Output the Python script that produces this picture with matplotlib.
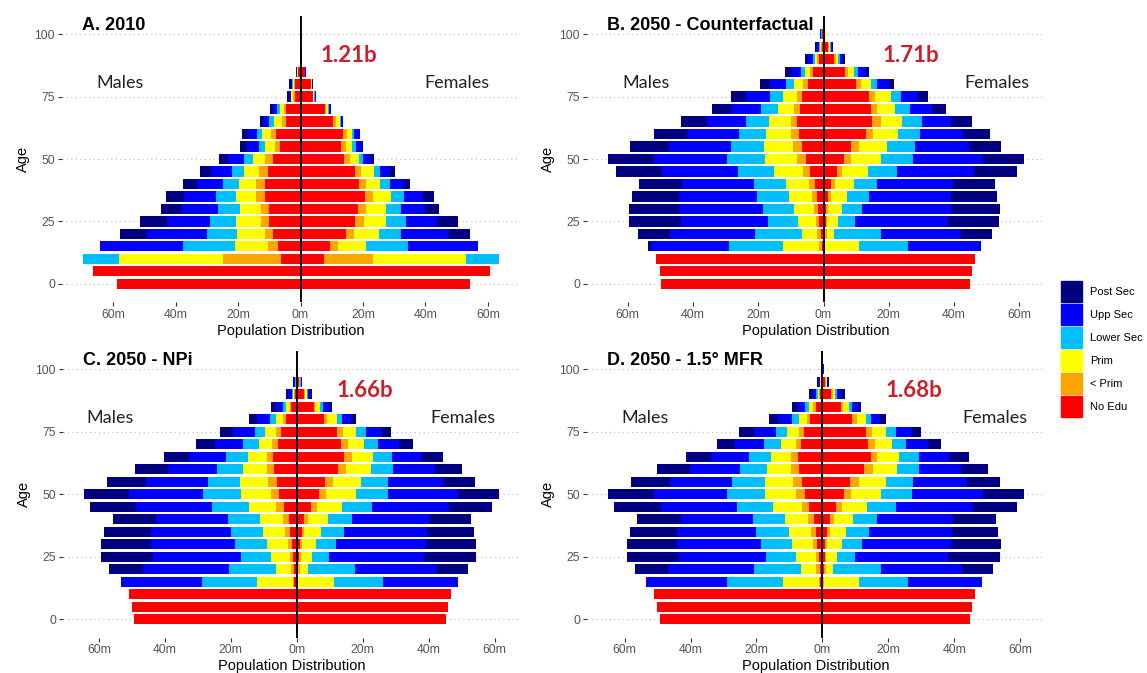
import numpy as np
import matplotlib.pyplot as plt
from matplotlib.patches import Patch

ages = list(range(0, 101, 5))
cats = ['No Edu', '< Prim', 'Prim', 'Lower Sec', 'Upp Sec', 'Post Sec']
colors = ['#FF0000', '#FFA500', '#FFFF00', '#00BFFF', '#0000FF', '#000080']

# population in millions, one row per age group (0, 5, ..., 100)
# columns: No Edu, < Prim, Prim, Lower Sec, Upp Sec, Post Sec
males_2010 = [
    [58.8, 0, 0, 0, 0, 0], [66.5, 0, 0, 0, 0, 0], [6.4, 18.5, 33.1, 11.7, 0, 0],
    [7.1, 3.3, 10.5, 16.7, 26.5, 0], [8.7, 2.7, 8.9, 9.6, 19.3, 8.5],
    [10.1, 2.6, 7.9, 8.5, 13.6, 8.7], [10.0, 2.7, 6.7, 6.9, 11.5, 6.8],
    [11.3, 2.8, 6.5, 6.4, 10.3, 5.7], [11.3, 2.8, 5.7, 4.9, 8.4, 4.6],
    [10.5, 2.9, 4.8, 3.8, 6.6, 3.7], [8.9, 2.5, 3.8, 3.0, 4.9, 2.9],
    [6.5, 1.8, 3.0, 2.0, 3.9, 2.1], [7.7, 1.7, 2.9, 1.7, 2.9, 1.8],
    [4.6, 1.3, 2.7, 1.4, 1.8, 1.1], [4.5, 0.9, 1.3, 0.9, 1.3, 0.9],
    [1.9, 0.5, 0.5, 0.3, 0.6, 0.6], [1.7, 0.4, 0.4, 0.2, 0.5, 0.4],
    [0.7, 0.2, 0.2, 0.1, 0.2, 0.0], [0.1, 0, 0, 0, 0, 0.05],
    [0, 0, 0, 0, 0, 0], [0, 0, 0, 0, 0, 0],
]
females_2010 = [
    [54.4, 0, 0, 0, 0, 0], [60.8, 0, 0, 0, 0, 0], [7.4, 15.8, 29.7, 10.7, 0, 0],
    [9.3, 2.7, 8.9, 13.5, 22.4, 0], [14.4, 2.6, 8.0, 7.3, 15.3, 6.6],
    [17.5, 2.7, 7.3, 6.4, 9.9, 6.6], [18.4, 2.7, 6.2, 5.0, 7.5, 4.5],
    [20.5, 2.7, 5.9, 4.1, 6.1, 3.4], [18.7, 2.3, 4.6, 2.9, 4.5, 2.1],
    [17.5, 1.9, 4.1, 2.0, 3.0, 1.9], [13.9, 1.8, 2.9, 1.4, 2.1, 1.3],
    [12.8, 1.6, 2.1, 1.1, 2.1, 0.3], [13.5, 1.3, 1.7, 0.7, 1.8, 0.2],
    [10.3, 0.9, 1.3, 0.3, 0.7, 0.2], [7.7, 0.5, 0.6, 0.4, 0.5, 0.1],
    [3.9, 0.2, 0.3, 0.2, 0.2, 0.0], [3.2, 0.2, 0.2, 0.1, 0.2, 0.0],
    [1.3, 0.1, 0.1, 0.05, 0.05, 0], [0.3, 0, 0, 0, 0.1, 0],
    [0, 0, 0, 0, 0, 0], [0, 0, 0, 0, 0, 0],
]
males_cf = [
    [49.7, 0, 0, 0, 0, 0], [50.2, 0, 0, 0, 0, 0], [51.2, 0, 0, 0, 0, 0],
    [0.6, 0.7, 11.0, 16.7, 24.0, 0.7], [0.9, 1.0, 4.6, 14.5, 26.1, 9.9],
    [1.3, 1.0, 5.6, 9.2, 26.6, 15.8], [1.6, 1.3, 6.2, 9.5, 25.6, 15.3],
    [2.1, 1.5, 6.9, 9.8, 24.0, 14.5], [2.7, 1.7, 7.2, 9.8, 22.0, 13.2],
    [4.2, 2.2, 8.8, 11.1, 23.1, 14.3], [5.5, 2.6, 9.7, 11.7, 22.6, 14.0],
    [6.5, 2.8, 8.9, 10.0, 19.2, 12.0], [7.5, 2.4, 7.7, 8.4, 15.8, 10.0],
    [8.0, 2.1, 6.5, 7.3, 11.7, 8.0], [7.1, 1.9, 4.9, 5.4, 9.1, 5.9],
    [6.5, 1.7, 4.1, 4.1, 7.4, 4.4], [4.9, 1.3, 2.8, 2.4, 5.1, 3.1],
    [3.2, 0.8, 1.7, 1.3, 2.8, 2.0], [1.4, 0.5, 0.7, 0.7, 1.5, 1.0],
    [0.6, 0.2, 0.3, 0.3, 0.7, 0.5], [0.4, 0.1, 0.1, 0.1, 0.3, 0.1],
]
females_cf = [
    [44.9, 0, 0, 0, 0, 0], [45.6, 0, 0, 0, 0, 0], [46.4, 0, 0, 0, 0, 0],
    [0.2, 0.4, 10.3, 15.0, 22.5, 0], [0.6, 0.5, 2.0, 14.4, 24.7, 9.4],
    [0.7, 0.4, 3.2, 5.3, 28.6, 15.6], [0.9, 0.6, 4.1, 6.2, 27.2, 15.0],
    [1.4, 0.8, 5.0, 6.7, 25.3, 14.1], [2.2, 1.2, 5.8, 7.3, 23.2, 12.8],
    [4.0, 1.8, 7.7, 9.1, 23.5, 13.1], [6.3, 2.2, 9.2, 9.7, 21.5, 12.6],
    [8.3, 2.7, 8.4, 8.5, 16.6, 9.9], [12.9, 2.4, 7.5, 6.9, 13.0, 8.2],
    [14.9, 2.6, 6.7, 6.0, 9.0, 6.3], [14.5, 2.0, 5.5, 4.4, 6.9, 4.1],
    [13.9, 2.0, 4.7, 3.3, 5.1, 3.1], [10.1, 1.5, 3.1, 1.8, 3.5, 1.6],
    [6.5, 1.0, 1.8, 1.4, 2.4, 0.7], [3.2, 0.5, 0.8, 0.5, 1.0, 0.7],
    [1.4, 0.2, 0.3, 0.3, 0.4, 0.2], [0.5, 0.1, 0.1, 0.1, 0.1, 0.0],
]
males_npi = [
    [49.5, 0, 0, 0, 0, 0], [50.0, 0, 0, 0, 0, 0], [51.0, 0, 0, 0, 0, 0],
    [0.7, 0.5, 10.9, 16.7, 24.4, 0], [0.8, 0.9, 4.5, 14.4, 26.1, 10.1],
    [1.0, 1.2, 5.6, 9.1, 26.8, 15.8], [1.5, 1.3, 6.1, 9.7, 25.6, 15.3],
    [2.0, 1.5, 6.8, 9.8, 24.0, 14.4], [2.5, 1.7, 7.1, 9.6, 21.8, 13.1],
    [3.8, 2.4, 8.4, 11.1, 23.0, 14.1], [5.3, 2.5, 9.2, 11.3, 22.5, 13.8],
    [5.9, 2.7, 8.6, 9.8, 18.7, 11.9], [6.8, 2.1, 7.3, 8.1, 14.9, 10.0],
    [7.1, 1.8, 6.0, 6.7, 11.0, 7.7], [5.8, 1.8, 4.0, 4.8, 8.5, 5.6],
    [4.8, 1.4, 3.3, 3.3, 6.5, 4.0], [3.3, 1.0, 1.9, 1.8, 4.0, 2.5],
    [1.7, 0.5, 1.1, 1.0, 2.0, 1.5], [0.5, 0.2, 0.3, 0.5, 1.2, 0.6],
    [0.2, 0.05, 0.1, 0.1, 0.4, 0.15], [0.1, 0, 0, 0, 0.05, 0.05],
]
females_npi = [
    [45.2, 0, 0, 0, 0, 0], [45.8, 0, 0, 0, 0, 0], [46.8, 0, 0, 0, 0, 0],
    [0.3, 0.2, 10.8, 15.0, 22.5, 0], [0.5, 0.5, 2.3, 14.5, 24.7, 9.4],
    [0.8, 0.4, 3.3, 5.3, 28.8, 15.7], [1.0, 0.7, 4.0, 6.2, 27.3, 15.1],
    [1.5, 0.8, 5.1, 6.8, 25.3, 14.3], [2.3, 1.2, 5.9, 7.3, 23.4, 12.7],
    [4.2, 1.8, 7.8, 8.9, 23.4, 13.2], [6.6, 2.3, 9.0, 9.7, 21.4, 12.4],
    [8.6, 2.5, 8.3, 8.4, 16.4, 9.9], [12.6, 2.3, 7.5, 6.7, 12.8, 8.1],
    [14.4, 2.2, 6.4, 5.8, 9.1, 6.3], [13.4, 2.0, 5.1, 4.0, 6.6, 4.0],
    [12.3, 1.8, 4.0, 3.0, 4.7, 2.8], [8.3, 1.0, 2.8, 1.5, 2.8, 1.5],
    [5.1, 0.5, 1.3, 1.0, 2.0, 0.7], [2.2, 0.3, 0.7, 0.3, 0.7, 0.3],
    [0.8, 0.1, 0.2, 0.1, 0.3, 0.2], [0.1, 0, 0, 0, 0.05, 0.05],
]
males_mfr = [
    [49.4, 0, 0, 0, 0, 0], [50.1, 0, 0, 0, 0, 0], [51.1, 0, 0, 0, 0, 0],
    [0.6, 0.5, 11.0, 16.7, 24.6, 0], [0.8, 1.0, 4.6, 14.4, 26.1, 9.9],
    [1.1, 1.0, 5.8, 9.1, 26.5, 15.7], [1.6, 1.2, 6.3, 9.6, 25.3, 15.2],
    [2.0, 1.5, 6.7, 10.0, 23.9, 14.4], [2.6, 1.7, 7.1, 9.6, 22.0, 13.2],
    [4.0, 2.3, 8.6, 11.1, 23.0, 14.2], [5.4, 2.7, 9.2, 11.5, 22.4, 13.9],
    [6.2, 2.7, 8.6, 9.9, 18.7, 12.0], [7.2, 2.2, 7.4, 8.1, 15.2, 10.0],
    [7.4, 2.0, 6.3, 6.7, 11.3, 7.8], [6.4, 1.7, 4.6, 4.9, 8.8, 5.7],
    [5.6, 1.6, 3.4, 3.5, 6.7, 4.5], [3.8, 1.0, 2.3, 2.0, 4.3, 2.8],
    [2.1, 0.7, 1.3, 1.2, 2.0, 1.8], [0.6, 0.4, 0.3, 0.5, 1.0, 1.2],
    [0.3, 0.1, 0.2, 0.2, 0.4, 0.4], [0.1, 0, 0, 0, 0.1, 0.1],
]
females_mfr = [
    [44.7, 0, 0, 0, 0, 0], [45.4, 0, 0, 0, 0, 0], [46.3, 0, 0, 0, 0, 0],
    [0.3, 0.2, 10.5, 15.0, 22.5, 0], [0.5, 0.5, 2.2, 14.5, 24.7, 9.2],
    [0.7, 0.5, 3.2, 5.4, 28.3, 15.7], [0.9, 0.6, 4.3, 6.1, 27.1, 15.1],
    [1.4, 0.8, 5.1, 6.8, 25.1, 14.2], [2.2, 1.2, 5.9, 7.4, 23.0, 12.9],
    [4.0, 1.9, 7.6, 8.9, 23.3, 13.4], [6.5, 2.3, 8.9, 9.6, 21.5, 12.4],
    [8.5, 2.5, 8.4, 8.1, 16.5, 10.0], [12.7, 2.5, 7.3, 6.9, 12.7, 8.0],
    [14.6, 2.1, 6.6, 6.0, 9.1, 6.2], [13.7, 2.2, 5.3, 4.1, 6.6, 4.0],
    [13.1, 1.8, 4.3, 3.0, 5.1, 2.6], [9.1, 1.4, 2.6, 1.7, 2.8, 1.7],
    [5.6, 0.7, 1.8, 0.9, 1.8, 0.8], [2.7, 0.5, 0.7, 0.6, 1.2, 1.0],
    [0.9, 0.1, 0.3, 0.2, 0.3, 0.2], [0.2, 0, 0.05, 0.05, 0.05, 0.05],
]

titles = ['A. 2010', 'B. 2050 - Counterfactual', 'C. 2050 - NPi', 'D. 2050 - 1.5\u00b0 MFR']
totals = ['1.21b', '1.71b', '1.66b', '1.68b']
total_x = [15.4, 26.8, 20.7, 27.7]
males_x = [-57.9, -54.3, -56.6, -53.9]
females_x = [50.2, 53.1, 50.4, 52.3]

panels = [(males_2010, females_2010), (males_cf, females_cf),
          (males_npi, females_npi), (males_mfr, females_mfr)]

W, H = 1147, 673
# axes boxes in pixels: left, right, top, bottom
boxes = [(62, 520, 16, 302), (587, 1045, 16, 302),
         (63, 520, 351, 637.5), (587, 1045, 351, 637.5)]

plt.rcParams['font.family'] = ['Liberation Sans', 'DejaVu Sans']
fig = plt.figure(figsize=(W / 100, H / 100), dpi=100)

for i, (m, f) in enumerate(panels):
    l, r, t, b = boxes[i]
    ax = fig.add_axes([l / W, 1 - b / H, (r - l) / W, (b - t) / H])
    m = np.array(m)
    f = np.array(f)
    cm = np.zeros(len(ages))
    cf = np.zeros(len(ages))
    for j in range(len(cats)):
        ax.barh(ages, -m[:, j], left=-cm, height=4.1, color=colors[j], lw=0)
        ax.barh(ages, f[:, j], left=cf, height=4.1, color=colors[j], lw=0)
        cm += m[:, j]
        cf += f[:, j]
    lo, hi = -cm.max(), cf.max()
    pad = 0.05 * (hi - lo)
    ax.set_xlim(lo - pad, hi + pad)
    ax.set_ylim(-7.3, 107.3)
    ax.axvline(0, color='black', lw=1.4, zorder=5)
    ticks = [-60, -40, -20, 0, 20, 40, 60]
    ax.set_xticks(ticks)
    ax.set_xticklabels(['%dm' % abs(v) for v in ticks])
    ax.set_yticks([0, 25, 50, 75, 100])
    ax.yaxis.grid(True, linestyle=(0, (1, 3)), color='#BBBBBB', lw=0.8)
    ax.set_axisbelow(True)
    for s in ax.spines.values():
        s.set_visible(False)
    ax.tick_params(colors='#333333', labelcolor='#555555', labelsize=8.8,
                   length=3, width=0.8, pad=2)
    ax.set_xlabel('Population Distribution', fontsize=10.5, labelpad=2)
    ax.set_ylabel('Age', fontsize=10.5, labelpad=3)
    ax.text(20 / (r - l), 0.995, titles[i], transform=ax.transAxes,
            ha='left', va='top', fontsize=13, fontweight='bold')
    ax.text(total_x[i], 91.6, totals[i], ha='center', va='center',
            fontsize=16, fontweight='bold', color='#C9202A', family='Lato')
    ax.text(males_x[i], 80.5, 'Males', ha='center', va='center',
            fontsize=13, color='#222222', family='Lato')
    ax.text(females_x[i], 80.5, 'Females', ha='center', va='center',
            fontsize=13, color='#222222', family='Lato')

handles = [Patch(color=colors[j]) for j in range(len(cats) - 1, -1, -1)]
labels = [cats[j] for j in range(len(cats) - 1, -1, -1)]
fig.legend(handles, labels, loc='upper left', bbox_to_anchor=(1061 / W, 1 - 281 / H),
           frameon=False, fontsize=8, handlelength=1.89, handleheight=2.53,
           labelspacing=0.18, handletextpad=0.75, borderpad=0, borderaxespad=0)

fig.savefig('out.png', dpi=100)
